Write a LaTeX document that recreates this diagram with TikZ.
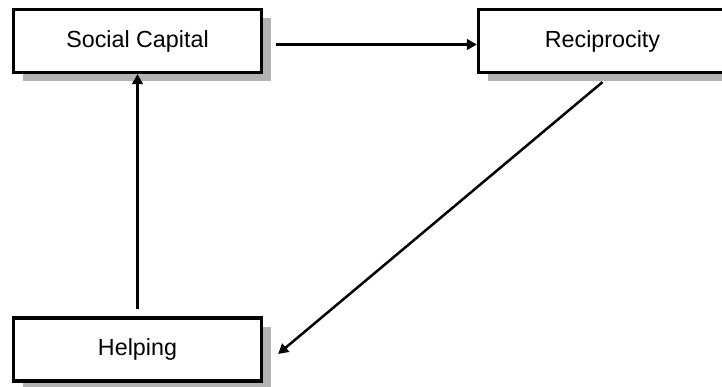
\documentclass[tikz,border=0pt]{standalone}
\usepackage{fontspec}
\setmainfont{Liberation Sans}
\usetikzlibrary{arrows.meta,shadows}
\begin{document}
\begin{tikzpicture}[x=1pt,y=-1pt,
  box/.style={draw=black, line width=3.2pt, fill=white,
    minimum width=248pt, minimum height=63pt, inner sep=0pt,
    font=\fontsize{23.3}{27}\selectfont,
    drop shadow={shadow xshift=9pt, shadow yshift=-9pt, fill=black!30, opacity=1}},
  link/.style={line width=2.5pt, -{Triangle[length=10pt,width=10.5pt]}}]
  \clip (0,0) rectangle (722,387);
  \fill[white] (0,0) rectangle (722,387);
  % the three concepts
  \node[box] (sc) at (137.5,41) {Social Capital};
  \node[box] (rc) at (602.5,41) {Reciprocity};
  \node[box] (hp) at (137.5,349.5) {Helping};
  % the cycle between them
  \draw[link, shorten <=13pt] ([yshift=-3.5pt]sc.east) -- ([yshift=-3.5pt]rc.west);
  \draw[link] ([yshift=-8pt]rc.south) -- ([xshift=15pt,yshift=-4.5pt]hp.east);
  \draw[link, shorten <=7pt] (hp.north) -- (sc.south);
\end{tikzpicture}
\end{document}
